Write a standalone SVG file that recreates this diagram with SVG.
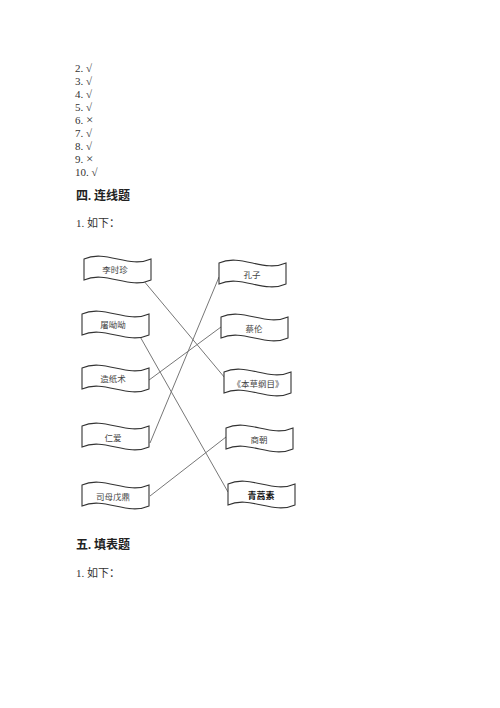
<svg xmlns="http://www.w3.org/2000/svg" xmlns:xlink="http://www.w3.org/1999/xlink" width="500" height="708" viewBox="0 0 500 708">
<style>
.t{font-family:"Liberation Serif","Noto Sans CJK SC",serif;font-size:11px;fill:#333}
.x{font-size:13px}
.h{font-family:"Liberation Serif","Noto Sans CJK SC",serif;font-size:12px;font-weight:bold;fill:#222}
.lbl{font-family:"Liberation Sans","Noto Sans CJK SC",sans-serif;font-size:8.5px;fill:#444;text-anchor:middle;dominant-baseline:central}
.b{font-weight:bold;fill:#111;font-size:9px}
.shape{fill:#fff;stroke:#333;stroke-width:1.1}
.conn line{stroke:#777;stroke-width:1}
</style>
<defs>
<path id="wave" class="shape" d="M0,5 C22,-5 45,15 67,5 L67,26 C45,36 22,16 0,26 Z"/>
</defs>
<rect width="500" height="708" fill="#fff"/>
<g id="answers">
<text class="t" x="75" y="72">2. √</text>
<text class="t" x="75" y="85">3. √</text>
<text class="t" x="75" y="98">4. √</text>
<text class="t" x="75" y="111">5. √</text>
<text class="t" x="75" y="124">6. <tspan class="x">×</tspan></text>
<text class="t" x="75" y="137">7. √</text>
<text class="t" x="75" y="150">8. √</text>
<text class="t" x="75" y="163">9. <tspan class="x">×</tspan></text>
<text class="t" x="75" y="176">10. √</text>
</g>
<text class="h" x="76" y="200">四. 连线题</text>
<text class="t" x="76" y="227">1. 如下：</text>
<g class="conn" id="connectors">
<line x1="143" y1="280" x2="225" y2="378"/>
<line x1="138" y1="333" x2="228" y2="492"/>
<line x1="145" y1="383" x2="221" y2="327"/>
<line x1="150" y1="443" x2="219" y2="277"/>
<line x1="150" y1="496" x2="226" y2="437"/>
</g>
<g id="n-lishizhen"><use xlink:href="#wave" x="84" y="254"/><text class="lbl" x="115" y="270">李时珍</text></g>
<g id="n-tuyouyou"><use xlink:href="#wave" x="82" y="309"/><text class="lbl" x="113" y="325">屠呦呦</text></g>
<g id="n-zaozhishu"><use xlink:href="#wave" x="82" y="363"/><text class="lbl" x="113" y="379">造纸术</text></g>
<g id="n-renai"><use xlink:href="#wave" x="82" y="421"/><text class="lbl" x="113" y="438">仁爱</text></g>
<g id="n-simuwuding"><use xlink:href="#wave" x="82" y="480"/><text class="lbl" x="113" y="497">司母戊鼎</text></g>
<g id="n-kongzi"><use xlink:href="#wave" x="219" y="258"/><text class="lbl" x="252" y="275">孔子</text></g>
<g id="n-cailun"><use xlink:href="#wave" x="221" y="312"/><text class="lbl" x="254" y="329">蔡伦</text></g>
<g id="n-bencao"><use xlink:href="#wave" x="224" y="367"/><text class="lbl" x="258" y="384">《本草纲目》</text></g>
<g id="n-shangchao"><use xlink:href="#wave" x="226" y="423"/><text class="lbl" x="259" y="440">商朝</text></g>
<g id="n-qinghaosu"><use xlink:href="#wave" x="228" y="479"/><text class="lbl b" x="261" y="496">青蒿素</text></g>
<text class="h" x="76" y="549">五. 填表题</text>
<text class="t" x="76" y="577">1. 如下：</text>
</svg>
